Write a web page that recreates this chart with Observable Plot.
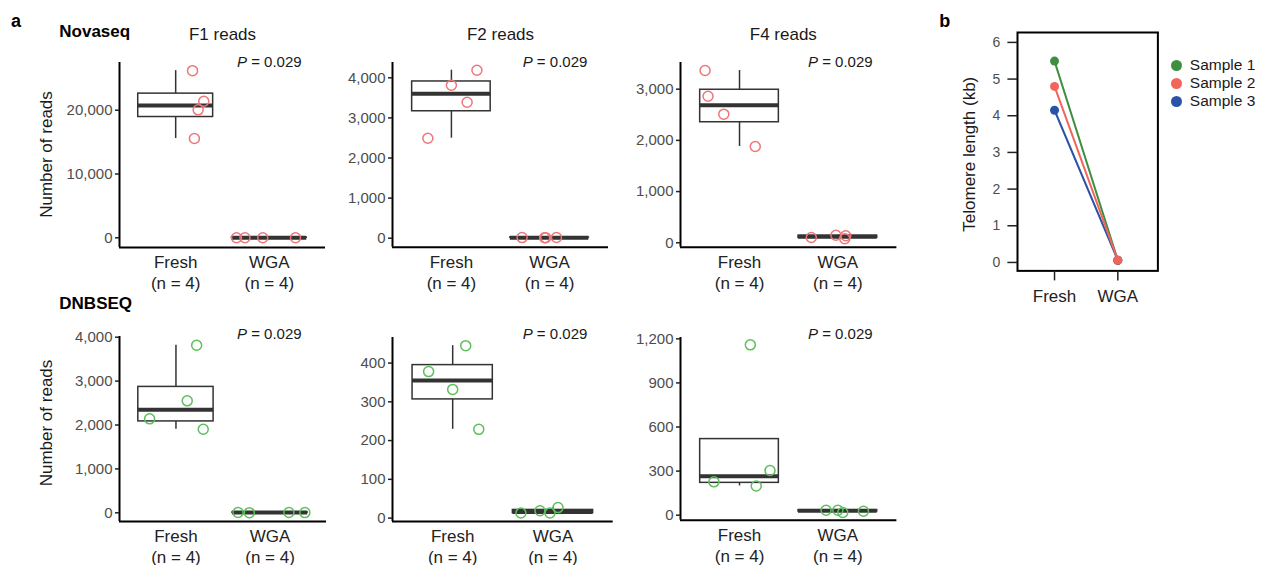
<!DOCTYPE html>
<html><head><meta charset="utf-8">
<script src="https://cdn.jsdelivr.net/npm/d3@7"></script>
<script src="https://cdn.jsdelivr.net/npm/@observablehq/plot@0.6"></script>
<style>
html,body{margin:0;padding:0;background:#fff;}
#fig{position:relative;width:1264px;height:565px;overflow:hidden;background:#fff;font-family:"Liberation Sans",Arial,Helvetica,sans-serif;}
#fig svg{position:absolute;overflow:visible;}
</style></head><body><div id="fig"></div>
<script>
// ---------- data ----------
const groupLabels = ["Fresh\n(n = 4)", "WGA\n(n = 4)"];
const pLabel = "0.029";

// Novaseq (reads)
const novaF1Fresh = [26200, 21400, 20060, 15560];
const novaF1Wga = [12, 4, 7, 9];
const novaF1FreshJit = [0.18, 0.30, 0.24, 0.20];
const novaF1WgaJit = [-0.35, -0.26, -0.07, 0.28];

const novaF2Fresh = [4190, 3815, 3390, 2494];
const novaF2Wga = [15, 12, 18, 14];
const novaF2FreshJit = [0.26, 0.0, 0.16, -0.24];
const novaF2WgaJit = [-0.28, -0.05, 0.07, -0.04];

const novaF4Fresh = [3365, 2863, 2512, 1881];
const novaF4Wga = [103, 148, 137, 80];
const novaF4FreshJit = [-0.35, -0.32, -0.16, 0.16];
const novaF4WgaJit = [-0.27, -0.02, 0.08, 0.07];

// DNBSEQ (reads)
const dnbF1Fresh = [3818, 2551, 2141, 1904];
const dnbF1Wga = [6, 4, 8, 5];
const dnbF1FreshJit = [0.22, 0.12, -0.28, 0.29];
const dnbF1WgaJit = [-0.34, -0.22, 0.20, 0.37];

const dnbF2Fresh = [445, 378, 332, 229];
const dnbF2Wga = [13, 19, 13, 27];
const dnbF2FreshJit = [0.13, -0.24, 0.0, 0.26];
const dnbF2WgaJit = [-0.32, -0.13, -0.03, 0.05];

const dnbF4Fresh = [1159, 227, 199, 304];
const dnbF4Wga = [34, 34, 18, 27];
const dnbF4FreshJit = [0.11, -0.26, 0.17, 0.31];
const dnbF4WgaJit = [-0.12, 0.0, 0.05, 0.26];

// Telomere length (kb)
const samples = ["Sample 1", "Sample 2", "Sample 3"];
const sampleColors = ["#3f8f43", "#f2655a", "#2a53a6"];
const teloGroups = ["Fresh", "WGA"];
const teloFresh = [5.49, 4.80, 4.15];
const teloWga = [0.06, 0.06, 0.06];
const teloTicks = [0, 1, 2, 3, 4, 5, 6];

// ---------- layout ----------
const FONT = '"Liberation Sans", Arial, Helvetica, sans-serif';
const fig = document.getElementById("fig");
const novaColor = "#ef7579";
const dnbColor = "#5cbf5c";

const panels = [
  {fresh: novaF1Fresh, wga: novaF1Wga, jf: novaF1FreshJit, jw: novaF1WgaJit, color: novaColor,
   domain: [-1520, 27480], ticks: [0, 10000, 20000], x0: 119, x1: 325, y0: 62, y1: 247},
  {fresh: novaF2Fresh, wga: novaF2Wga, jf: novaF2FreshJit, jw: novaF2WgaJit, color: novaColor,
   domain: [-224, 4382], ticks: [0, 1000, 2000, 3000, 4000], x0: 392.3, x1: 608.3, y0: 62, y1: 246.7},
  {fresh: novaF4Fresh, wga: novaF4Wga, jf: novaF4FreshJit, jw: novaF4WgaJit, color: novaColor,
   domain: [-86, 3521], ticks: [0, 1000, 2000, 3000], x0: 680.3, x1: 896.7, y0: 62, y1: 246.7},
  {fresh: dnbF1Fresh, wga: dnbF1Wga, jf: dnbF1FreshJit, jw: dnbF1WgaJit, color: dnbColor,
   domain: [-198, 4016], ticks: [0, 1000, 2000, 3000, 4000], x0: 119, x1: 326, y0: 336, y1: 521},
  {fresh: dnbF2Fresh, wga: dnbF2Wga, jf: dnbF2FreshJit, jw: dnbF2WgaJit, color: dnbColor,
   domain: [-8.8, 466], ticks: [0, 100, 200, 300, 400], x0: 392.3, x1: 613, y0: 336.7, y1: 520.7},
  {fresh: dnbF4Fresh, wga: dnbF4Wga, jf: dnbF4FreshJit, jw: dnbF4WgaJit, color: dnbColor,
   domain: [-34, 1209], ticks: [0, 300, 600, 900, 1200], x0: 680.3, x1: 896.7, y0: 337.3, y1: 520}
];

function boxStats(vals, x) {
  const s = d3.sort(vals);
  const q1 = d3.quantileSorted(s, 0.25), med = d3.quantileSorted(s, 0.5), q3 = d3.quantileSorted(s, 0.75);
  const iqr = q3 - q1;
  const lo = d3.min(s.filter(v => v >= q1 - 1.5 * iqr));
  const hi = d3.max(s.filter(v => v <= q3 + 1.5 * iqr));
  return {x, q1, med, q3, lo, hi};
}

function place(svg, left, top) {
  svg.style.left = left + "px";
  svg.style.top = top + "px";
  fig.appendChild(svg);
}

const BW = 0.4;
for (const p of panels) {
  const pts = [
    ...p.fresh.map((v, i) => ({g: 1, v, j: p.jf[i]})),
    ...p.wga.map((v, i) => ({g: 2, v, j: p.jw[i]}))
  ];
  const stats = [boxStats(p.fresh, 1), boxStats(p.wga, 2)];
  const mL = 80, mR = 12, mT = 12, mB = 56;
  const svg = Plot.plot({
    width: (p.x1 - p.x0) + mL + mR,
    height: (p.y1 - p.y0) + mT + mB,
    marginLeft: mL, marginRight: mR, marginTop: mT, marginBottom: mB,
    x: {domain: [0.4, 2.6]},
    y: {domain: p.domain},
    style: {background: "transparent", fontFamily: FONT, overflow: "visible"},
    marks: [
      Plot.ruleX(stats, {x: "x", y1: "q3", y2: "hi", stroke: "#333", strokeWidth: 1.5}),
      Plot.ruleX(stats, {x: "x", y1: "lo", y2: "q1", stroke: "#333", strokeWidth: 1.5}),
      Plot.rect(stats, {x1: d => d.x - BW, x2: d => d.x + BW, y1: "q1", y2: "q3", fill: "white", stroke: "#333", strokeWidth: 1.5}),
      Plot.ruleY(stats, {x1: d => d.x - BW, x2: d => d.x + BW, y: "med", stroke: "#333", strokeWidth: 4}),
      Plot.dot(pts, {x: d => d.g + d.j, y: "v", r: 5, stroke: p.color, strokeWidth: 1.5, fill: "none"}),
      Plot.ruleX([0.4], {stroke: "#000", strokeWidth: 2}),
      Plot.ruleY([p.domain[0]], {stroke: "#000", strokeWidth: 2}),
      Plot.axisY({ticks: p.ticks, tickFormat: d3.format(","), tickSize: 4, tickPadding: 3, fontSize: 15,
                  stroke: "#222", fill: "#4d4d4d", strokeWidth: 1.5, label: null}),
      Plot.axisX({ticks: [1, 2], tickFormat: d => groupLabels[d - 1], tickSize: 0, tickPadding: 5.5,
                  fontSize: 17, fill: "#222", lineHeight: 1.235, label: null})
    ]
  });
  place(svg, p.x0 - mL, p.y0 - mT);
}

// ---------- panel b ----------
{
  const telo = [];
  samples.forEach((s, i) => {
    telo.push({s, x: 1, v: teloFresh[i]});
    telo.push({s, x: 2, v: teloWga[i]});
  });
  // draw Sample 2 last (on top)
  const order = ["Sample 1", "Sample 3", "Sample 2"];
  telo.sort((a, b) => order.indexOf(a.s) - order.indexOf(b.s));
  const x0 = 1017.3, x1 = 1157.7, y0 = 32.3, y1 = 270.7;
  const mL = 60, mR = 10, mT = 10, mB = 50;
  const svg = Plot.plot({
    width: (x1 - x0) + mL + mR, height: (y1 - y0) + mT + mB,
    marginLeft: mL, marginRight: mR, marginTop: mT, marginBottom: mB,
    x: {domain: [0.415, 2.633]},
    y: {domain: [-0.23, 6.27]},
    color: {domain: samples, range: sampleColors},
    style: {background: "transparent", fontFamily: FONT, overflow: "visible"},
    marks: [
      Plot.line(telo, {x: "x", y: "v", z: "s", stroke: "s", strokeWidth: 2}),
      Plot.dot(telo, {x: "x", y: "v", fill: "s", r: 4.5}),
      Plot.frame({stroke: "#000", strokeWidth: 2}),
      Plot.axisY({ticks: teloTicks, tickFormat: d3.format("d"), tickSize: 9.6, tickPadding: 7.5, fontSize: 14, stroke: "#222",
                  fill: "#4d4d4d", strokeWidth: 1.5, label: null}),
      Plot.axisX({ticks: [1, 2], tickFormat: d => teloGroups[d - 1], tickSize: 10, tickPadding: 9,
                  fontSize: 17, stroke: "#222", fill: "#222", strokeWidth: 1.5, label: null})
    ]
  });
  place(svg, x0 - mL, y0 - mT);

  // legend
  const legend = Plot.plot({
    width: 104, height: 90, margin: 0,
    x: {domain: [0, 1], range: [16, 100], axis: null},
    y: {type: "point", domain: samples, range: [14.3, 70.7], axis: null},
    color: {domain: samples, range: sampleColors},
    style: {background: "transparent", fontFamily: FONT, overflow: "visible"},
    marks: [
      Plot.dot(samples, {x: () => 0, y: d => d, fill: d => d, r: 5.5}),
      Plot.text(samples, {x: () => 0, y: d => d, text: d => d, dx: 13.3, textAnchor: "start", fontSize: 15.5, fill: "#1a1a1a"})
    ]
  });
  place(legend, 1160, 40);
}

// ---------- text overlay ----------
const ov = d3.select(fig).append("svg")
  .attr("width", 1264).attr("height", 565)
  .style("left", "0px").style("top", "0px")
  .attr("font-family", FONT).attr("fill", "#1a1a1a");

const labels = [
  {t: "a", x: 11, y: 27.3, size: 18, weight: "bold", fill: "#000"},
  {t: "b", x: 939.3, y: 27.3, size: 18, weight: "bold", fill: "#000"},
  {t: "Novaseq", x: 59.3, y: 36.7, size: 17, weight: "bold", fill: "#000"},
  {t: "DNBSEQ", x: 59.3, y: 309.3, size: 17, weight: "bold", fill: "#000"},
  {t: "F1 reads", x: 222.5, y: 39.5, size: 17, anchor: "middle"},
  {t: "F2 reads", x: 500.5, y: 39.5, size: 17, anchor: "middle"},
  {t: "F4 reads", x: 783.3, y: 39.5, size: 17, anchor: "middle"}
];
for (const l of labels) {
  ov.append("text").text(l.t).attr("x", l.x).attr("y", l.y)
    .attr("font-size", l.size).attr("font-weight", l.weight || "normal")
    .attr("text-anchor", l.anchor || "start").attr("fill", l.fill || "#1a1a1a");
}
const pPos = [[237, 66.7], [522.7, 66.7], [808, 66.7], [237, 339.3], [522.7, 339.3], [808, 339.3]];
for (const [x, y] of pPos) {
  const t = ov.append("text").attr("x", x).attr("y", y).attr("font-size", 15).attr("fill", "#1a1a1a");
  t.append("tspan").attr("font-style", "italic").text("P");
  t.append("tspan").text(" = " + pLabel);
}
const rot = [
  {t: "Number of reads", x: 51.5, y: 154.5},
  {t: "Number of reads", x: 51.5, y: 423},
  {t: "Telomere length (kb)", x: 974.7, y: 154.2}
];
for (const r of rot) {
  ov.append("text").text(r.t).attr("font-size", 17).attr("text-anchor", "middle")
    .attr("transform", `translate(${r.x},${r.y}) rotate(-90)`).attr("fill", "#1a1a1a");
}
</script></body></html>
